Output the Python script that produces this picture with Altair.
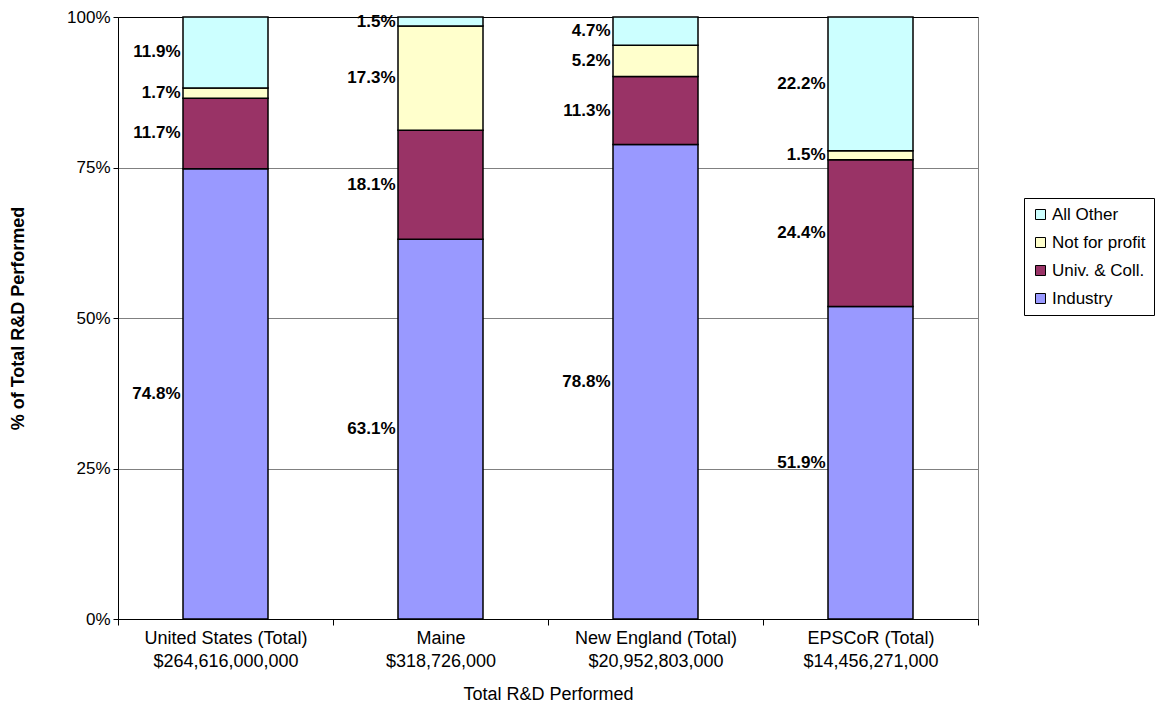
import altair as alt
import pandas as pd

regions = ["United States (Total)", "Maine", "New England (Total)", "EPSCoR (Total)"]
totals = ["$264,616,000,000", "$318,726,000", "$20,952,803,000", "$14,456,271,000"]
sectors = ["Industry", "Univ. & Coll.", "Not for profit", "All Other"]
industry = [74.8, 63.1, 78.8, 51.9]
univ = [11.7, 18.1, 11.3, 24.4]
nonprofit = [1.7, 17.3, 5.2, 1.5]
other = [11.9, 1.5, 4.7, 22.2]
legend_order = ["All Other", "Not for profit", "Univ. & Coll.", "Industry"]
legend_colors = ["#CCFFFF", "#FFFFCC", "#993366", "#9999FF"]
y_ticks = [0, 25, 50, 75, 100]

FONT = "Liberation Sans"

series = [industry, univ, nonprofit, other]
rows = []
for i, r in enumerate(regions):
    key = r + "|" + totals[i]
    for j, s in enumerate(sectors):
        rows.append({"cat": key, "sector": s, "order": j, "value": series[j][i]})
df = pd.DataFrame(rows)
cat_order = [r + "|" + t for r, t in zip(regions, totals)]

x_enc = alt.X(
    "cat:N",
    sort=cat_order,
    title="Total R&D Performed",
    scale=alt.Scale(paddingInner=0, paddingOuter=0),
    axis=alt.Axis(
        labelExpr="split(datum.label, '|')",
        labelAngle=0,
        labelFontSize=18,
        labelLineHeight=23,
        labelPadding=4,
        labelFont=FONT,
        labelColor="black",
        tickBand="extent",
        tickSize=6,
        tickColor="black",
        domainColor="black",
        titleFontSize=18,
        titleFontWeight="normal",
        titleFont=FONT,
        titleColor="black",
        titlePadding=15,
        grid=False,
    ),
)

y_axis = alt.Axis(
    values=y_ticks,
    labelExpr="datum.value + '%'",
    labelFontSize=17,
    labelFont=FONT,
    labelColor="black",
    tickSize=5,
    labelPadding=3,
    tickColor="black",
    domainColor="black",
    grid=True,
    gridColor=alt.condition("datum.value == 100", alt.value("black"), alt.value("#808080")),
    title="% of Total R&D Performed",
    titleFontSize=18,
    titleFontWeight="bold",
    titleFont=FONT,
    titleColor="black",
    titlePadding=39,
)
y_scale = alt.Scale(domain=[0, 100], nice=False, clamp=True)

bars = alt.Chart(df).mark_bar(width=85, stroke="black", strokeWidth=1.5).encode(
    x=x_enc,
    y=alt.Y("value:Q", stack="zero", scale=y_scale, axis=y_axis),
    color=alt.Color(
        "sector:N",
        scale=alt.Scale(domain=legend_order, range=legend_colors),
        legend=alt.Legend(
            title=None,
            orient="none",
            legendX=906,
            legendY=181,
            strokeColor="black",
            fillColor="white",
            padding=8,
            symbolType="square",
            symbolSize=100,
            symbolStrokeColor="black",
            symbolStrokeWidth=1,
            labelFontSize=17,
            labelFont=FONT,
            labelColor="black",
            rowPadding=10,
            labelOffset=3,
        ),
    ),
    order=alt.Order("order:Q"),
)

labels = (
    alt.Chart(df)
    .transform_stack(stack="value", groupby=["cat"], sort=[alt.SortField("order")], as_=["v0", "v1"])
    .transform_calculate(mid="(datum.v0 + datum.v1) / 2", label="format(datum.value, '.1f') + '%'")
    .mark_text(align="right", baseline="middle", dx=-45, fontSize=17, fontWeight="bold", font=FONT, color="black")
    .encode(
        x=alt.X("cat:N", sort=cat_order),
        y=alt.Y("mid:Q", scale=y_scale, axis=y_axis),
        text="label:N",
    )
)

chart = (
    alt.layer(bars, labels)
    .properties(
        width=860,
        height=602,
        autosize=alt.AutoSizeParams(type="none"),
        padding={"left": 110, "top": 9, "right": 180, "bottom": 88},
    )
    .configure_view(stroke="#808080", strokeWidth=1)
)

chart.save("out.html", embed_options={"renderer": "svg", "actions": False})
